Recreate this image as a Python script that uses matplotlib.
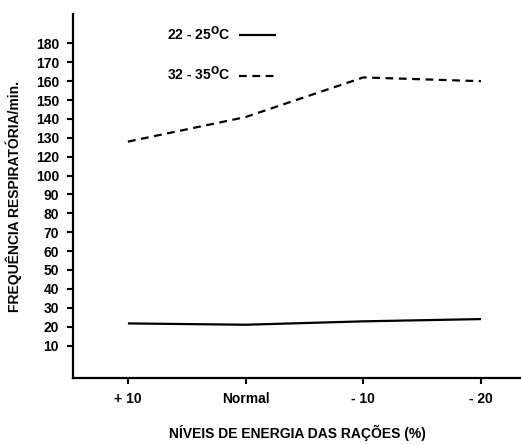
import matplotlib
matplotlib.use('Agg')
import matplotlib.pyplot as plt
import numpy as np

plt.rcParams['font.family'] = ['Liberation Sans', 'DejaVu Sans']
plt.rcParams['font.weight'] = 'bold'

# data
niveis = ['+ 10', 'Normal', '- 10', '- 20']
temp_baixa = [21.7, 21.0, 22.8, 24.0]      # 22 - 25 C
temp_alta = [128.0, 141.0, 162.0, 160.0]   # 32 - 35 C
y_ticks = [10, 20, 30, 40, 50, 60, 70, 80, 90, 100, 120, 130, 140, 150, 160, 170, 180]

# the printed axis is evenly spaced per tick (110 is skipped)
scale_vals = [-10, 0] + y_ticks + [200]
scale_pos = [-1, 0] + list(range(1, len(y_ticks) + 1)) + [len(y_ticks) + 2]

def fwd(v):
    return np.interp(v, scale_vals, scale_pos)

def inv(p):
    return np.interp(p, scale_pos, scale_vals)

fig = plt.figure(figsize=(5.21, 4.45), dpi=100)
ax = fig.add_axes([0.140, 0.1506, 0.860, 0.818])
ax.set_yscale('function', functions=(fwd, inv))

x = np.arange(len(niveis))
ax.plot(x, temp_baixa, color='black', lw=1.6, solid_capstyle='butt',
        label='22 - 25$^{\\mathbf{O}}$C')
ax.plot(x, temp_alta, color='black', lw=1.6, dashes=(3.5, 2.5),
        label='32 - 35$^{\\mathbf{O}}$C')

ax.set_xlim(-0.467, 3.34)
ax.set_ylim(inv(-0.72), inv(18.56))
ax.set_yticks(y_ticks)
ax.set_yticklabels([str(t) for t in y_ticks])
ax.set_xticks(x)
ax.set_xticklabels(niveis)
ax.minorticks_off()

for s in ['top', 'right']:
    ax.spines[s].set_visible(False)
for s in ['left', 'bottom']:
    ax.spines[s].set_linewidth(1.6)
ax.tick_params(axis='both', direction='out', length=4, width=1.5,
               labelsize=10, pad=6)

ax.set_xlabel('NÍVEIS DE ENERGIA DAS RAÇÕES (%)', fontsize=10,
              fontweight='bold', labelpad=14)
ax.set_ylabel('FREQUÊNCIA RESPIRATÓRIA/min.', fontsize=10,
              fontweight='bold', labelpad=10)

ax.legend(loc='upper left', bbox_to_anchor=(160 / 521, 1 - 17 / 445),
          bbox_transform=fig.transFigure, frameon=False, markerfirst=False,
          handlelength=2.7, labelspacing=1.6, borderpad=0, handletextpad=0.6,
          prop={'size': 10, 'weight': 'bold'})

fig.savefig('out.png', dpi=100)
